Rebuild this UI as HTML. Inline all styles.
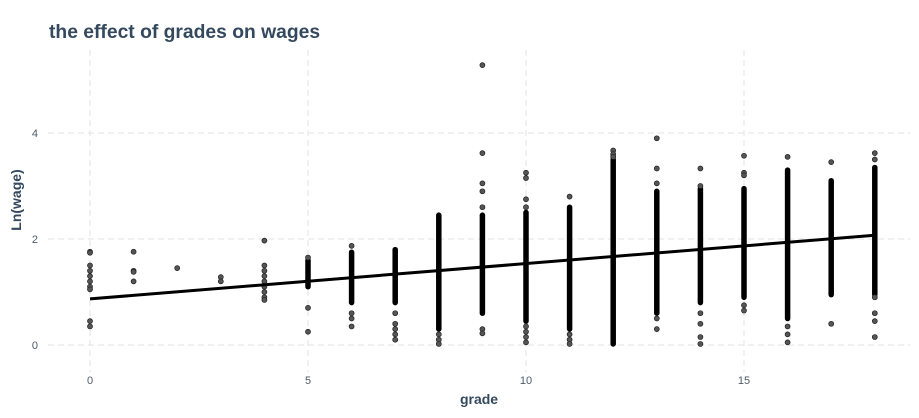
<!DOCTYPE html>
<html><head><meta charset="utf-8"><style>
body{margin:0;background:#fff;}
svg text{font-family:"Liberation Sans",sans-serif;}
</style></head><body>
<svg width="919" height="413" viewBox="0 0 919 413">
<text x="49" y="38" font-size="19.3" font-weight="bold" fill="#34495e">the effect of grades on wages</text>
<g id="grid"></g>
<g id="marks"></g>
<g id="axes"></g>
<text x="479" y="404" font-size="14" font-weight="bold" fill="#34495e" text-anchor="middle">grade</text>
<text transform="translate(21,200) rotate(-90)" font-size="14" font-weight="bold" fill="#34495e" text-anchor="middle">Ln(wage)</text>
</svg>
<script>
const grades=[0,1,2,3,4,5,6,7,8,9,10,11,12,13,14,15,16,17,18];
const denseLo=[null,null,null,null,null,1.1,0.8,0.8,0.3,0.6,0.45,0.3,0.02,0.6,0.8,0.9,0.5,0.95,0.95];
const denseHi=[null,null,null,null,null,1.6,1.75,1.8,2.45,2.45,2.5,2.6,3.5,2.9,2.95,2.95,3.3,3.1,3.35];
const outliers=[[1.76,1.74,1.5,1.4,1.3,1.2,1.1,1.05,0.45,0.35],[1.76,1.4,1.38,1.2],[1.45],[1.28,1.2],[1.97,1.5,1.4,1.3,1.2,1.1,1.0,0.9,0.85],[1.65,0.7,0.25],[1.87,0.6,0.5,0.35],[0.6,0.4,0.3,0.2,0.1],[0.2,0.1,0.02],[5.28,3.62,3.05,2.9,2.6,0.3,0.22],[3.25,3.15,2.75,2.6,0.35,0.25,0.15,0.05],[2.8,0.2,0.1,0.02],[3.67,3.6,3.55],[3.9,3.33,3.05,0.5,0.3],[3.33,3.0,0.6,0.4,0.15,0.02],[3.57,3.25,3.2,0.75,0.65],[3.55,0.35,0.2,0.05],[3.45,0.4],[3.62,3.5,0.9,0.6,0.45,0.15]];
const fitX=[0,18];
const fitY=[0.87,2.07];
const xTicks=[0,5,10,15];
const yTicks=[0,2,4];
const NS="http://www.w3.org/2000/svg";
const xs=v=>90+v*43.6, ys=v=>345-v*53;
function mk(t,a,p){const e=document.createElementNS(NS,t);for(const k in a)e.setAttribute(k,a[k]);p.appendChild(e);return e;}
const grid=document.getElementById('grid'),marks=document.getElementById('marks'),axes=document.getElementById('axes');
xTicks.forEach(t=>{const l=mk('line',{x1:xs(t),x2:xs(t),y1:50,y2:372,stroke:'#e3e3e3','stroke-dasharray':'6,4'},grid);


const tx=mk('text',{x:xs(t),y:384,'font-size':11,fill:'#4d5b6a','text-anchor':'middle'},axes);tx.textContent=t;

});
yTicks.forEach(t=>{const l=mk('line',{x1:48,x2:910,y1:ys(t),y2:ys(t),stroke:'#e3e3e3','stroke-dasharray':'6,4'},grid);


const tx=mk('text',{x:38,y:ys(t)+4,'font-size':11,fill:'#4d5b6a','text-anchor':'end'},axes);tx.textContent=t;

});
grades.forEach((g,i)=>{
 if(denseLo[i]!=null){const r=mk('line',{x1:xs(g),x2:xs(g),y1:ys(denseLo[i]),y2:ys(denseHi[i]),stroke:'#000','stroke-width':5.5,'stroke-linecap':'round'},marks);
 
 }
 outliers[i].forEach(v=>{const c=mk('circle',{cx:xs(g),cy:ys(v),r:2.5,fill:'#555','stroke':'#222','stroke-width':0.7},marks);
 
 });
});
const fl=mk('line',{x1:xs(fitX[0]),y1:ys(fitY[0]),x2:xs(fitX[1]),y2:ys(fitY[1]),stroke:'#000','stroke-width':3},marks);


</script>
</body></html>
